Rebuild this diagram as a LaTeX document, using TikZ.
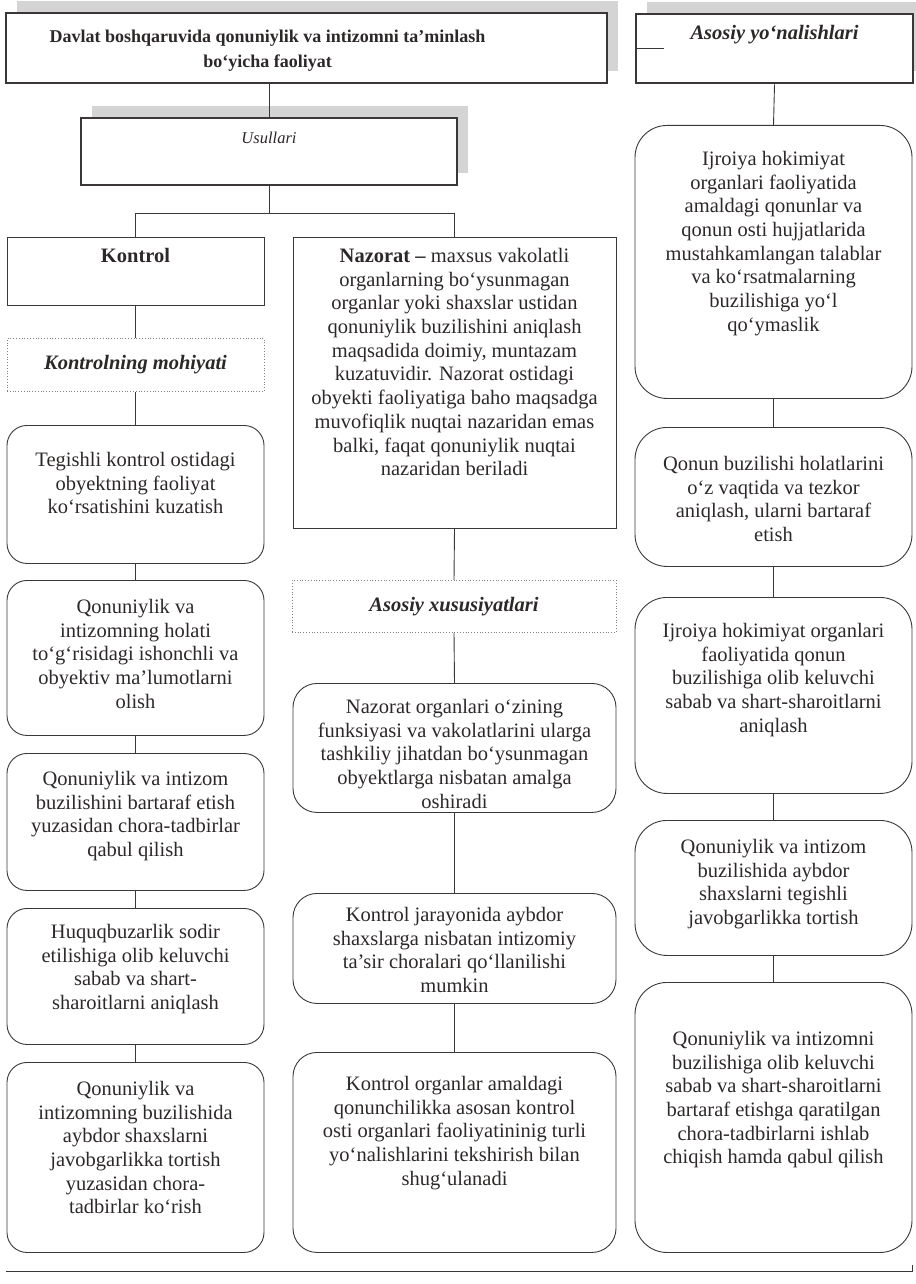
\documentclass[tikz,border=0pt]{standalone}
\usepackage{fontspec}
\setmainfont{Liberation Serif}
\usepackage{xcolor}
\definecolor{textcolor}{RGB}{45,40,40}
\definecolor{linecolor}{RGB}{60,55,55}
\definecolor{shadecolor}{RGB}{212,212,212}
\usetikzlibrary{shadows}

\tikzset{
  base/.style={draw=linecolor, inner sep=0pt, anchor=north, text=textcolor},
  headbox/.style={base, line width=2.4pt, fill=white,
    drop shadow={shadow xshift=11pt, shadow yshift=12pt, fill=shadecolor, opacity=1}},
  plainbox/.style={base, line width=0.9pt},
  dotbox/.style={base, draw=gray, dotted, line width=0.8pt},
  roundbox/.style={base, line width=0.9pt, rounded corners=#1},
  txt/.style={anchor=north, text=textcolor, align=center, inner sep=0pt,
    font=\fontsize{20.5}{23.7}\selectfont},
  link/.style={draw=linecolor, line width=0.9pt},
}

\begin{document}
\begin{tikzpicture}[x=1pt, y=-1pt]
  \useasboundingbox (0,0) rectangle (915,1284);

  % heads
  \node[headbox, minimum width=601pt, minimum height=70pt,
        label={[txt, xshift=-39pt, yshift=-18pt, font=\fontsize{18}{25}\selectfont\bfseries]north:{Davlat boshqaruvida qonuniylik va intizomni ta’minlash\\bo‘yicha faoliyat}}]
        (top) at (306.5,12) {};
  \node[headbox, minimum width=277pt, minimum height=69pt,
        label={[txt, yshift=-12pt, font=\fontsize{20.5}{23.7}\selectfont\bfseries\itshape]north:{Asosiy yo‘nalishlari}}]
        (asos) at (774.5,13) {};
  \node[headbox, minimum width=376pt, minimum height=67pt,
        label={[txt, yshift=-15pt, font=\fontsize{16.5}{20}\selectfont\itshape]north:{Usullari}}]
        (usul) at (269,117) {};
  \coordinate (stub) at ([xshift=29pt]asos.west);

  % kontrol
  \node[plainbox, minimum width=257pt, minimum height=68pt,
        label={[txt, yshift=-11pt, font=\fontsize{20.5}{23.7}\selectfont\bfseries]north:{Kontrol}}]
        (kontrol) at (135.5,237) {};
  \node[dotbox, minimum width=257pt, minimum height=53pt,
        font=\fontsize{20.5}{23.7}\selectfont\bfseries\itshape] (kmoh) at (135.5,338) {Kontrolning mohiyati};
  \node[roundbox=20pt, minimum width=257pt, minimum height=138pt,
        label={[txt, yshift=-27pt]north:{Tegishli kontrol ostidagi\\obyektning faoliyat\\ko‘rsatishini kuzatish}}]
        (k1) at (135.5,425) {};
  \node[roundbox=20pt, minimum width=257pt, minimum height=155pt,
        label={[txt, yshift=-19pt]north:{Qonuniylik va\\intizomning holati\\to‘g‘risidagi ishonchli va\\obyektiv ma’lumotlarni\\olish}}]
        (k2) at (135.5,580) {};
  \node[roundbox=20pt, minimum width=257pt, minimum height=137pt,
        label={[txt, yshift=-18pt]north:{Qonuniylik va intizom\\buzilishini bartaraf etish\\yuzasidan chora-tadbirlar\\qabul qilish}}]
        (k3) at (135.5,753) {};
  \node[roundbox=20pt, minimum width=257pt, minimum height=136pt,
        label={[txt, yshift=-16pt]north:{Huquqbuzarlik sodir\\etilishiga olib keluvchi\\sabab va shart-\\sharoitlarni aniqlash}}]
        (k4) at (135.5,908) {};
  \node[roundbox=20pt, minimum width=257pt, minimum height=190pt,
        label={[txt, yshift=-19pt]north:{Qonuniylik va\\intizomning buzilishida\\aybdor shaxslarni\\javobgarlikka tortish\\yuzasidan chora-\\tadbirlar ko‘rish}}]
        (k5) at (135.5,1062) {};

  % nazorat
  \node[plainbox, minimum width=323pt, minimum height=291pt,
        label={[txt, yshift=-11pt]north:{\textbf{Nazorat –} maxsus vakolatli\\organlarning bo‘ysunmagan\\organlar yoki shaxslar ustidan\\qonuniylik buzilishini aniqlash\\maqsadida doimiy, muntazam\\kuzatuvidir. Nazorat ostidagi\\obyekti faoliyatiga baho maqsadga\\muvofiqlik nuqtai nazaridan emas\\balki, faqat qonuniylik nuqtai\\nazaridan beriladi}}]
        (nazorat) at (454.5,237) {};
  \node[dotbox, minimum width=324pt, minimum height=52pt,
        font=\fontsize{20.5}{23.7}\selectfont\bfseries\itshape] (axus) at (454,580) {Asosiy xususiyatlari};
  \node[roundbox=24pt, minimum width=323pt, minimum height=129pt,
        label={[txt, yshift=-16pt]north:{Nazorat organlari o‘zining\\funksiyasi va vakolatlarini ularga\\tashkiliy jihatdan bo‘ysunmagan\\obyektlarga nisbatan amalga\\oshiradi}}]
        (n1) at (454.5,683) {};
  \node[roundbox=24pt, minimum width=323pt, minimum height=110pt,
        label={[txt, yshift=-14pt]north:{Kontrol jarayonida aybdor\\shaxslarga nisbatan intizomiy\\ta’sir choralari qo‘llanilishi\\mumkin}}]
        (n2) at (454.5,893) {};
  \node[roundbox=24pt, minimum width=323pt, minimum height=200pt,
        label={[txt, yshift=-24pt]north:{Kontrol organlar amaldagi\\qonunchilikka asosan kontrol\\osti organlari faoliyatininig turli\\yo‘nalishlarini tekshirish bilan\\shug‘ulanadi}}]
        (n3) at (454.5,1052) {};

  % yo'nalishlar
  \node[roundbox=32pt, minimum width=277pt, minimum height=273pt,
        label={[txt, yshift=-26pt]north:{Ijroiya hokimiyat\\organlari faoliyatida\\amaldagi qonunlar va\\qonun osti hujjatlarida\\mustahkamlangan talablar\\va ko‘rsatmalarning\\buzilishiga yo‘l\\qo‘ymaslik}}]
        (r1) at (773.5,125) {};
  \node[roundbox=32pt, minimum width=277pt, minimum height=139pt,
        label={[txt, yshift=-29pt]north:{Qonun buzilishi holatlarini\\o‘z vaqtida va tezkor\\aniqlash, ularni bartaraf\\etish}}]
        (r2) at (773.5,427) {};
  \node[roundbox=32pt, minimum width=277pt, minimum height=196pt,
        label={[txt, yshift=-26pt]north:{Ijroiya hokimiyat organlari\\faoliyatida qonun\\buzilishiga olib keluvchi\\sabab va shart-sharoitlarni\\aniqlash}}]
        (r3) at (773.5,597) {};
  \node[roundbox=32pt, minimum width=277pt, minimum height=135pt,
        label={[txt, yshift=-19pt]north:{Qonuniylik va intizom\\buzilishida aybdor\\shaxslarni tegishli\\javobgarlikka tortish}}]
        (r4) at (773.5,820) {};
  \node[roundbox=32pt, minimum width=277pt, minimum height=270pt,
        label={[txt, yshift=-49pt]north:{Qonuniylik va intizomni\\buzilishiga olib keluvchi\\sabab va shart-sharoitlarni\\bartaraf etishga qaratilgan\\chora-tadbirlarni ishlab\\chiqish hamda qabul qilish}}]
        (r5) at (773.5,982) {};

  % connectors
  \coordinate (fork) at ([yshift=-27pt]usul.south);
  \draw[link] (usul.north) -- (usul.north |- top.south);
  \draw[link] (asos.west) -- (stub);
  \draw[link] (usul.south) -- (fork);
  \draw[link] (kontrol.north) |- (fork) -| (nazorat.north);

  \draw[link] (kontrol.south) -- (kmoh.north);
  \draw[link] (kmoh.south) -- (k1.north);
  \draw[link] (k1.south) -- (k2.north);
  \draw[link] (k2.south) -- (k3.north);
  \draw[link] (k3.south) -- (k4.north);
  \draw[link] (k4.south) -- (k5.north);

  \draw[link] (nazorat.south) -- (axus.north);
  \draw[link] (axus.south) -- (n1.north);
  \draw[link] (n1.south) -- (n2.north);
  \draw[link] (n2.south) -- (n3.north);

  \draw[link] (asos.south) -- (r1.north);
  \draw[link] (r1.south) -- (r2.north);
  \draw[link] (r2.south) -- (r3.north);
  \draw[link] (r3.south) -- (r4.north);
  \draw[link] (r4.south) -- (r5.north);

  % rule at the foot
  \draw[link] (6,1271) -- (912,1271) -- (912,1265);
\end{tikzpicture}
\end{document}
